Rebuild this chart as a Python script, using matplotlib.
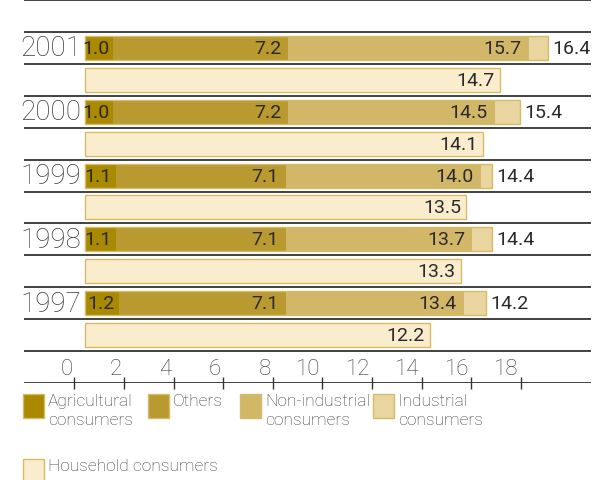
import numpy as np
import matplotlib.pyplot as plt
from matplotlib.patches import Rectangle

# data, as printed on the chart (cumulative end values of each stack)
years = ["2001", "2000", "1999", "1998", "1997"]
agricultural = [1.0, 1.0, 1.1, 1.1, 1.2]
others = [7.2, 7.2, 7.1, 7.1, 7.1]
non_industrial = [15.7, 14.5, 14.0, 13.7, 13.4]
industrial = [16.4, 15.4, 14.4, 14.4, 14.2]
household = [14.7, 14.1, 13.5, 13.3, 12.2]
axis_ticks = [0, 2, 4, 6, 8, 10, 12, 14, 16, 18]

series_names = ["Agricultural\nconsumers", "Others", "Non-industrial\nconsumers",
                "Industrial\nconsumers", "Household consumers"]
colors = ["#a88900", "#b99a31", "#d2b769", "#e8d5a0", "#faedcd"]
edge = "#d6bb66"
line_col = "#333333"
txt_col = "#2a2a2a"
light_col = "#3a3a3a"

W, H = 593, 481
fig = plt.figure(figsize=(W / 100, H / 100), dpi=100)


def px(x0, y0, w, h):
    # pixel box (top-left origin) -> figure fraction
    return [x0 / W, 1 - (y0 + h) / H, w / W, h / H]


ax = fig.add_axes(px(24, 1, 567, 383))
ax.set_xlim(-2.16, 17.91)
ax.set_ylim(12, 0)
ax.axis("off")

stack = np.array([agricultural, others, non_industrial, industrial])
lefts = np.vstack([np.zeros(len(years)), stack[:-1]])
bar_h = 0.75
val_fs = 14

for i, yr in enumerate(years):
    y_top = 2 * i + 1.5
    y_hh = 2 * i + 2.5
    for k in range(4):
        ax.barh(y_top, stack[k, i] - lefts[k, i], left=lefts[k, i], height=bar_h,
                color=colors[k], edgecolor="none")
    # thin outline around the stacked bar
    ax.barh(y_top, stack[-1, i], height=bar_h, color="none", edgecolor=edge, lw=1)
    for k in range(3):
        pad = -3 if k == 0 else -5
        ax.annotate(f"{stack[k, i]:.1f}", (stack[k, i], y_top), xytext=(pad, 0),
                    textcoords="offset points", ha="right", va="center",
                    fontsize=val_fs, color=txt_col, family="Roboto")
    ax.annotate(f"{stack[3, i]:.1f}", (stack[3, i], y_top), xytext=(3, 0),
                textcoords="offset points", ha="left", va="center",
                fontsize=val_fs, color=txt_col, family="Roboto")
    ax.text(-0.14, y_top, yr, ha="right", va="center", fontsize=20,
            color="#3a3a3a", family="Roboto", weight="light")

    ax.barh(y_hh, household[i], height=bar_h, color=colors[4], edgecolor=edge, lw=1)
    ax.annotate(f"{household[i]:.1f}", (household[i], y_hh), xytext=(-4, 0),
                textcoords="offset points", ha="right", va="center",
                fontsize=val_fs, color=txt_col, family="Roboto")

for yl in range(0, 13):
    ax.axhline(yl, color=line_col, lw=1.3)

# the scale drawn under the bars
ax2 = ax.twiny()
ax2.set_xlim(-2.036, 20.83)
for s in ax2.spines.values():
    s.set_visible(False)
ax2.xaxis.set_ticks_position("bottom")
ax2.set_xticks(axis_ticks)
ax2.set_xticklabels([])
ax2.tick_params(axis="x", direction="inout", length=9, width=1, color=line_col)
ax2.set_yticks([])
for t in axis_ticks:
    ax2.annotate(str(t), (t, 0), xycoords=ax2.get_xaxis_transform(), xytext=(-1.5, 3),
                 textcoords="offset points", ha="right", va="bottom",
                 fontsize=16, color=light_col, family="Roboto", weight="light")

# legend
leg_pos = [(23, 395), (148, 395), (240, 395), (373, 395), (23, 460)]
for (lx, ly), name, c in zip(leg_pos, series_names, colors):
    fig.patches.append(Rectangle((lx / W, 1 - (ly + 24) / H), 21 / W, 24 / H,
                                 transform=fig.transFigure, facecolor=c,
                                 edgecolor=edge, lw=1))
    fig.text((lx + 25) / W, 1 - (ly - 1) / H, name, ha="left", va="top",
             fontsize=12.5, color=light_col, family="Roboto", weight="light",
             linespacing=1.3)

fig.savefig("out.png", dpi=100)
